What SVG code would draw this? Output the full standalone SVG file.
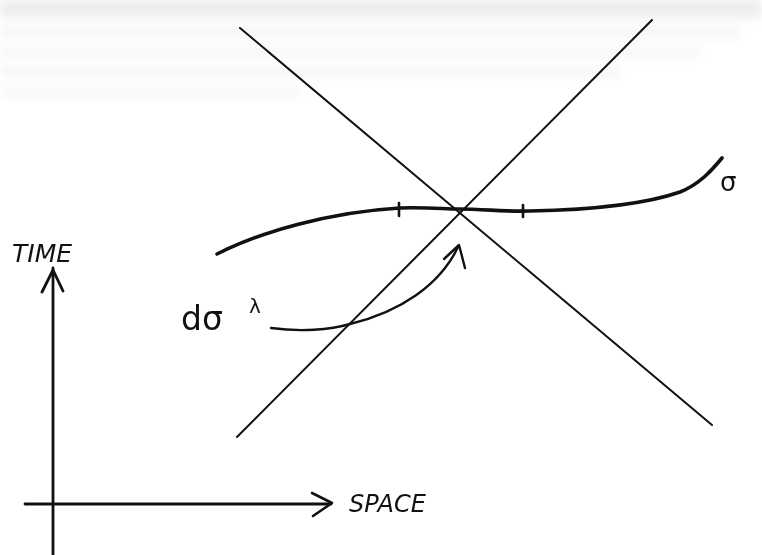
<svg xmlns="http://www.w3.org/2000/svg" width="762" height="555" viewBox="0 0 762 555">
<defs>
<filter id="blur" x="-5%" y="-50%" width="110%" height="200%"><feGaussianBlur stdDeviation="5"/></filter>
</defs>
<style>
.ink{fill:none;stroke:#111;stroke-linecap:round;stroke-linejoin:round}
.cone{stroke-width:2}
.axis{stroke-width:2.8}
.world{stroke-width:3.6}
.lbl{font-family:"DejaVu Sans","Liberation Sans",sans-serif;fill:#111}
.it{font-style:italic}
</style>
<rect width="762" height="555" fill="#fff"/>
<g id="bleed" filter="url(#blur)" fill="#000">
<rect x="0" y="0" width="762" height="18" opacity="0.07"/>
<rect x="0" y="26" width="740" height="12" opacity="0.035"/>
<rect x="0" y="46" width="700" height="12" opacity="0.03"/>
<rect x="0" y="66" width="620" height="12" opacity="0.03"/>
<rect x="0" y="86" width="300" height="12" opacity="0.025"/>
</g>
<g id="connectors">
<g id="light-cone">
<line class="ink cone" x1="240" y1="28" x2="712" y2="425"/>
<line class="ink cone" x1="652" y1="20" x2="237" y2="437"/>
</g>
<g id="sigma-curve">
<path class="ink world" d="M217,254 C260,232 330,212 400,208 C425,207 445,209 458,209 C485,209 505,212 530,211 C580,210 640,206 680,192 C700,184 712,170 722,158"/>
<line class="ink" stroke-width="2.6" x1="399" y1="203" x2="399" y2="216"/>
<line class="ink" stroke-width="2.6" x1="523" y1="205" x2="523" y2="217"/>
</g>
<g id="dsigma-arrow">
<path class="ink" stroke-width="2.4" d="M271,328 C300,332 330,330 350,324 C400,312 440,285 458,247"/>
<path class="ink" stroke-width="2.4" d="M444,259 L459,245 L465,268"/>
</g>
<g id="time-axis">
<line class="ink axis" x1="53" y1="268" x2="53" y2="555"/>
<path class="ink axis" d="M42,292 L53,270 L63,291"/>
</g>
<g id="space-axis">
<line class="ink axis" x1="25" y1="504" x2="331" y2="504"/>
<path class="ink" stroke-width="2.6" d="M312,493 L332,503 L313,516"/>
</g>
</g>
<g id="labels">
<text class="lbl it" x="12" y="262" font-size="25">TIME</text>
<text class="lbl it" x="349" y="512" font-size="24">SPACE</text>
<text class="lbl" x="720" y="191" font-size="26">σ</text>
<text class="lbl" x="181" y="330" font-size="33">dσ</text>
<text class="lbl" x="249" y="313" font-size="20">λ</text>
</g>
</svg>
